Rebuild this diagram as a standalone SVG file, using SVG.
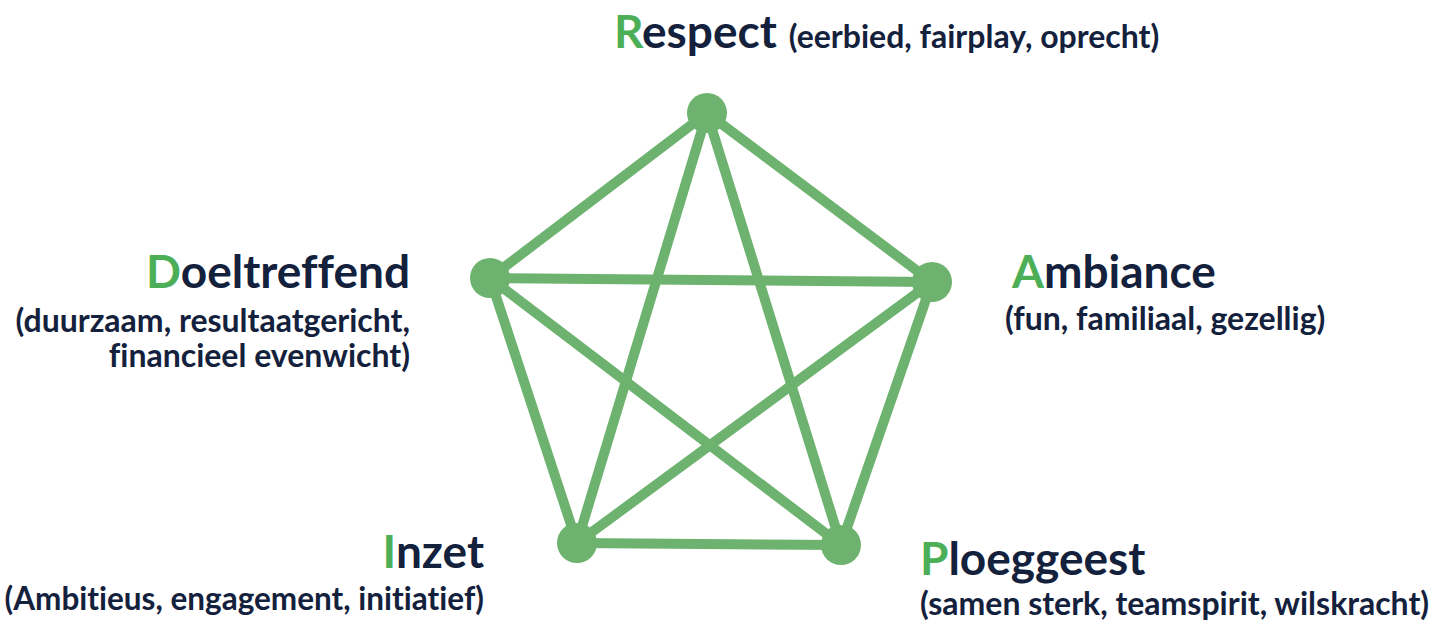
<svg xmlns="http://www.w3.org/2000/svg" width="1440" height="622" viewBox="0 0 1440 622">
<style>
.t{font-family:Lato,"Open Sans",sans-serif;font-weight:700;fill:#14213d;font-variant-ligatures:none;font-feature-settings:"liga" 0,"dlig" 0;}
.h{font-size:46px;}
.s{font-size:32px;}
.g{fill:#4caf58;}
.e{stroke:#6db36f;stroke-width:10;stroke-linecap:round;fill:none;}
.n{fill:#6db36f;}
</style>
<rect width="1440" height="622" fill="#ffffff"/>
<g id="connectors">
<line class="e" x1="707" y1="113" x2="932" y2="282"/>
<line class="e" x1="707" y1="113" x2="490" y2="278"/>
<line class="e" x1="707" y1="113" x2="577" y2="543"/>
<line class="e" x1="707" y1="113" x2="841" y2="545"/>
<line class="e" x1="490" y1="278" x2="932" y2="282"/>
<line class="e" x1="490" y1="278" x2="577" y2="543"/>
<line class="e" x1="490" y1="278" x2="841" y2="545"/>
<line class="e" x1="932" y1="282" x2="577" y2="543"/>
<line class="e" x1="932" y1="282" x2="841" y2="545"/>
<line class="e" x1="577" y1="543" x2="841" y2="545"/>
</g>
<g id="respect">
<circle class="n" cx="707" cy="113" r="20"/>
<text class="t" x="614" y="48"><tspan class="h"><tspan class="g">R</tspan>espect</tspan><tspan class="s" dx="12">(eerbied, fairplay, oprecht)</tspan></text>
</g>
<g id="ambiance">
<circle class="n" cx="932" cy="282" r="20"/>
<text class="t h" x="1012" y="288"><tspan class="g">A</tspan>mbiance</text>
<text class="t s" x="1005" y="330">(fun, familiaal, gezellig)</text>
</g>
<g id="ploeggeest">
<circle class="n" cx="841" cy="545" r="20"/>
<text class="t h" x="920" y="575"><tspan class="g">P</tspan>loeggeest</text>
<text class="t s" x="920" y="615">(samen sterk, teamspirit, wilskracht)</text>
</g>
<g id="inzet">
<circle class="n" cx="577" cy="543" r="20"/>
<text class="t h" x="484" y="568" text-anchor="end"><tspan class="g">I</tspan>nzet</text>
<text class="t s" x="484" y="610" text-anchor="end" style="font-size:31.5px">(Ambitieus, engagement, initiatief)</text>
</g>
<g id="doeltreffend">
<circle class="n" cx="490" cy="278" r="20"/>
<text class="t h" x="410" y="288" text-anchor="end"><tspan class="g">D</tspan>oeltreffend</text>
<text class="t s" x="410" y="332" text-anchor="end">(duurzaam, resultaatgericht,</text>
<text class="t s" x="410" y="367" text-anchor="end">financieel evenwicht)</text>
</g>
</svg>
